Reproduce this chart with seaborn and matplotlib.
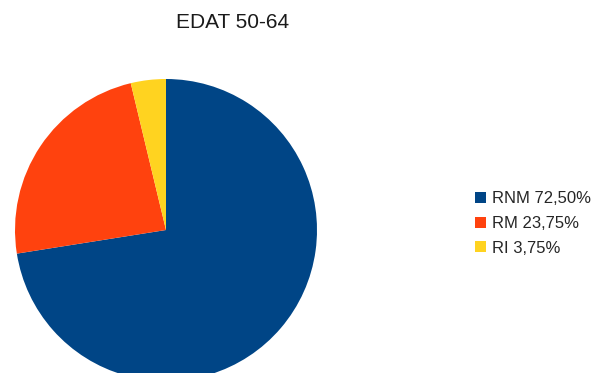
import matplotlib
matplotlib.use("Agg")
import matplotlib.pyplot as plt
import seaborn as sns

sns.set_theme(style="white")
plt.rcParams["font.family"] = ["Liberation Sans", "DejaVu Sans"]

categories = ["RNM", "RM", "RI"]
shares = [72.50, 23.75, 3.75]
colors = ["#004586", "#ff420e", "#ffd320"]
title = "EDAT 50-64"

W, H = 603, 373
fig = plt.figure(figsize=(W / 100, H / 100), dpi=100)
ax = fig.add_axes([0, 0, 1, 1])

wedges, _ = ax.pie(shares, colors=colors, startangle=90, counterclock=False,
                   center=(166, H - 230), radius=151, frame=True,
                   wedgeprops={"linewidth": 0})
ax.set_xlim(0, W)
ax.set_ylim(0, H)
ax.set_aspect("equal")
ax.axis("off")

labels = [f"{c} {v:.2f}".replace(".", ",") + "%" for c, v in zip(categories, shares)]
fig.legend(wedges, labels, loc="center left", bbox_to_anchor=(475 / W, 1 - 223.5 / H),
           frameon=False, fontsize=12, handlelength=0.65, handleheight=0.65,
           handletextpad=0.4, labelspacing=0.58, borderpad=0, borderaxespad=0)

fig.text(233 / W, 1 - 23 / H, title, ha="center", va="center", fontsize=15, color="#1a1a1a")

fig.savefig("out.png", dpi=100)
